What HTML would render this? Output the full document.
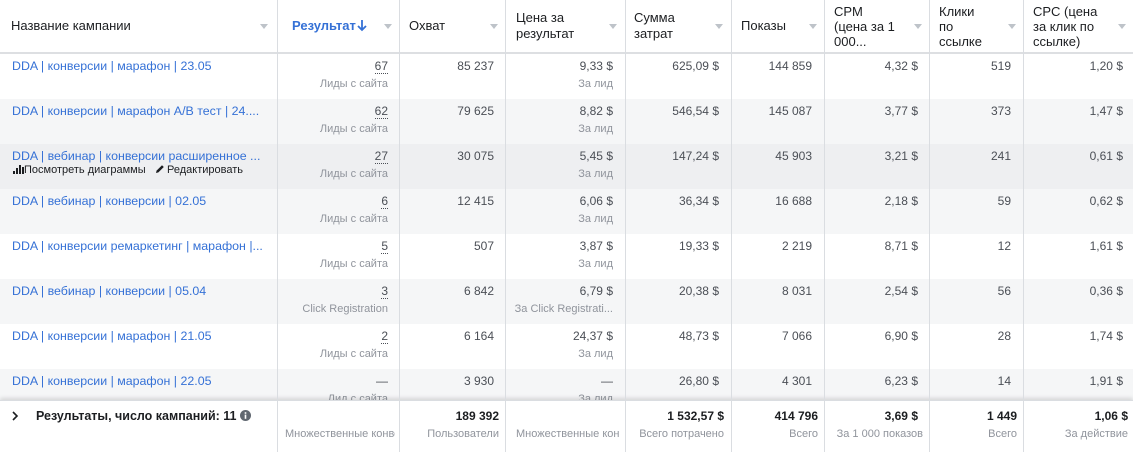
<!DOCTYPE html>
<html><head><meta charset="utf-8">
<style>
*{box-sizing:border-box;margin:0;padding:0}
html,body{width:1133px;height:452px;overflow:hidden;background:#fff;font-family:"Liberation Sans","DejaVu Sans",sans-serif;}
.hdr{position:absolute;left:0;top:0;width:1133px;height:54px;background:#fff;border-bottom:2px solid #dddfe2;}
.ht{position:absolute;font-size:13px;color:#1c1e21;line-height:15px;white-space:nowrap}
.tri{position:absolute;top:24px;width:0;height:0;border-left:4px solid transparent;border-right:4px solid transparent;border-top:5px solid #bec3c9}
.row{position:absolute;left:0;width:1133px;height:45px}
.nm{position:absolute;left:12px;top:5px;font-size:12.4px;line-height:14px;color:#3571d6;white-space:nowrap}
.v{position:absolute;top:5px;font-size:12px;line-height:14px;color:#4b4f56;text-align:right;white-space:nowrap}
.s{position:absolute;top:24px;font-size:11px;line-height:13px;color:#90949c;text-align:right;white-space:nowrap;overflow:hidden}
.dot{border-bottom:1px dotted #4b4f56;padding-bottom:0}
.vl{position:absolute;top:0;width:1px;height:452px;background:#dadde1;z-index:5}
.ft{position:absolute;left:0;top:400px;width:1133px;height:52px;background:#fff;z-index:4;box-shadow:0 -2px 4px rgba(0,0,0,0.13);border-top:1px solid #dadde1}
.fb{position:absolute;top:8px;font-size:12px;line-height:14px;font-weight:bold;color:#1c1e21;text-align:right;white-space:nowrap}
.fs{position:absolute;top:27px;font-size:11px;line-height:13px;color:#90949c;text-align:right;white-space:nowrap;overflow:hidden}
.act{position:absolute;top:20px;font-size:11px;line-height:13px;color:#1c1e21;white-space:nowrap}
</style></head><body>

<div class="hdr">
  <div class="ht" style="left:11px;top:18px">Название кампании</div>
  <div class="tri" style="left:260px"></div>
  <div class="ht" style="left:292px;top:18px;color:#3571d6;font-weight:bold">Результат<svg width="10" height="13" viewBox="0 0 10 13" style="vertical-align:-2px;margin-left:1px"><path d="M5 1 V11 M1 7 L5 11 L9 7" stroke="#3571d6" stroke-width="1.8" fill="none"/></svg></div>
  <div class="tri" style="left:384px"></div>
  <div class="ht" style="left:409px;top:18px">Охват</div>
  <div class="tri" style="left:490px"></div>
  <div class="ht" style="left:516px;top:10px;line-height:16px">Цена за<br>результат</div>
  <div class="tri" style="left:609px"></div>
  <div class="ht" style="left:634px;top:10px;line-height:16px">Сумма<br>затрат</div>
  <div class="tri" style="left:715px"></div>
  <div class="ht" style="left:741px;top:18px">Показы</div>
  <div class="tri" style="left:809px"></div>
  <div class="ht" style="left:834px;top:4px">CPM<br>(цена за 1<br>000...</div>
  <div class="tri" style="left:914px"></div>
  <div class="ht" style="left:939px;top:4px">Клики<br>по<br>ссылке</div>
  <div class="tri" style="left:1008px"></div>
  <div class="ht" style="left:1033px;top:4px">CPC (цена<br>за клик по<br>ссылке)</div>
  <div class="tri" style="left:1118px"></div>
</div>

<!-- Row 1 -->
<div class="row" style="top:54px;background:#fff">
  <div class="nm">DDA | конверсии | марафон | 23.05</div>
  <div class="v" style="left:277px;width:111px"><span class="dot">67</span></div>
  <div class="s" style="left:277px;width:111px">Лиды с сайта</div>
  <div class="v" style="left:399px;width:95px">85 237</div>
  <div class="v" style="left:505px;width:108px">9,33 $</div>
  <div class="s" style="left:505px;width:108px">За лид</div>
  <div class="v" style="left:625px;width:94px">625,09 $</div>
  <div class="v" style="left:731px;width:81px">144 859</div>
  <div class="v" style="left:824px;width:94px">4,32 $</div>
  <div class="v" style="left:929px;width:82px">519</div>
  <div class="v" style="left:1023px;width:100px">1,20 $</div>
</div>

<!-- Row 2 -->
<div class="row" style="top:99px;background:#f5f6f7">
  <div class="nm">DDA | конверсии | марафон A/B тест | 24....</div>
  <div class="v" style="left:277px;width:111px"><span class="dot">62</span></div>
  <div class="s" style="left:277px;width:111px">Лиды с сайта</div>
  <div class="v" style="left:399px;width:95px">79 625</div>
  <div class="v" style="left:505px;width:108px">8,82 $</div>
  <div class="s" style="left:505px;width:108px">За лид</div>
  <div class="v" style="left:625px;width:94px">546,54 $</div>
  <div class="v" style="left:731px;width:81px">145 087</div>
  <div class="v" style="left:824px;width:94px">3,77 $</div>
  <div class="v" style="left:929px;width:82px">373</div>
  <div class="v" style="left:1023px;width:100px">1,47 $</div>
</div>

<!-- Row 3 (hover) -->
<div class="row" style="top:144px;background:#eeeff1">
  <div class="nm">DDA | вебинар | конверсии расширенное ...</div>
  <div class="act" style="left:13px"><svg width="11" height="10" viewBox="0 0 11 10" style="vertical-align:-1px"><rect x="0" y="7" width="2" height="3" fill="#1c1e21"/><rect x="3" y="4" width="2" height="6" fill="#1c1e21"/><rect x="6" y="1" width="2" height="9" fill="#1c1e21"/><rect x="9" y="3" width="2" height="7" fill="#1c1e21"/></svg>Посмотреть диаграммы</div>
  <div class="act" style="left:155px"><svg width="10" height="10" viewBox="0 0 10 10" style="vertical-align:-1px;margin-right:2px"><path d="M1 9 L1.6 6.6 L7 1.2 L8.8 3 L3.4 8.4 Z" fill="#1c1e21"/></svg>Редактировать</div>
  <div class="v" style="left:277px;width:111px"><span class="dot">27</span></div>
  <div class="s" style="left:277px;width:111px">Лиды с сайта</div>
  <div class="v" style="left:399px;width:95px">30 075</div>
  <div class="v" style="left:505px;width:108px">5,45 $</div>
  <div class="s" style="left:505px;width:108px">За лид</div>
  <div class="v" style="left:625px;width:94px">147,24 $</div>
  <div class="v" style="left:731px;width:81px">45 903</div>
  <div class="v" style="left:824px;width:94px">3,21 $</div>
  <div class="v" style="left:929px;width:82px">241</div>
  <div class="v" style="left:1023px;width:100px">0,61 $</div>
</div>

<!-- Row 4 -->
<div class="row" style="top:189px;background:#f5f6f7">
  <div class="nm">DDA | вебинар | конверсии | 02.05</div>
  <div class="v" style="left:277px;width:111px"><span class="dot">6</span></div>
  <div class="s" style="left:277px;width:111px">Лиды с сайта</div>
  <div class="v" style="left:399px;width:95px">12 415</div>
  <div class="v" style="left:505px;width:108px">6,06 $</div>
  <div class="s" style="left:505px;width:108px">За лид</div>
  <div class="v" style="left:625px;width:94px">36,34 $</div>
  <div class="v" style="left:731px;width:81px">16 688</div>
  <div class="v" style="left:824px;width:94px">2,18 $</div>
  <div class="v" style="left:929px;width:82px">59</div>
  <div class="v" style="left:1023px;width:100px">0,62 $</div>
</div>

<!-- Row 5 -->
<div class="row" style="top:234px;background:#fff">
  <div class="nm">DDA | конверсии ремаркетинг | марафон |...</div>
  <div class="v" style="left:277px;width:111px"><span class="dot">5</span></div>
  <div class="s" style="left:277px;width:111px">Лиды с сайта</div>
  <div class="v" style="left:399px;width:95px">507</div>
  <div class="v" style="left:505px;width:108px">3,87 $</div>
  <div class="s" style="left:505px;width:108px">За лид</div>
  <div class="v" style="left:625px;width:94px">19,33 $</div>
  <div class="v" style="left:731px;width:81px">2 219</div>
  <div class="v" style="left:824px;width:94px">8,71 $</div>
  <div class="v" style="left:929px;width:82px">12</div>
  <div class="v" style="left:1023px;width:100px">1,61 $</div>
</div>

<!-- Row 6 -->
<div class="row" style="top:279px;background:#f5f6f7">
  <div class="nm">DDA | вебинар | конверсии | 05.04</div>
  <div class="v" style="left:277px;width:111px"><span class="dot">3</span></div>
  <div class="s" style="left:277px;width:111px">Click Registration</div>
  <div class="v" style="left:399px;width:95px">6 842</div>
  <div class="v" style="left:505px;width:108px">6,79 $</div>
  <div class="s" style="left:505px;width:108px">За Click Registrati...</div>
  <div class="v" style="left:625px;width:94px">20,38 $</div>
  <div class="v" style="left:731px;width:81px">8 031</div>
  <div class="v" style="left:824px;width:94px">2,54 $</div>
  <div class="v" style="left:929px;width:82px">56</div>
  <div class="v" style="left:1023px;width:100px">0,36 $</div>
</div>

<!-- Row 7 -->
<div class="row" style="top:324px;background:#fff">
  <div class="nm">DDA | конверсии | марафон | 21.05</div>
  <div class="v" style="left:277px;width:111px"><span class="dot">2</span></div>
  <div class="s" style="left:277px;width:111px">Лиды с сайта</div>
  <div class="v" style="left:399px;width:95px">6 164</div>
  <div class="v" style="left:505px;width:108px">24,37 $</div>
  <div class="s" style="left:505px;width:108px">За лид</div>
  <div class="v" style="left:625px;width:94px">48,73 $</div>
  <div class="v" style="left:731px;width:81px">7 066</div>
  <div class="v" style="left:824px;width:94px">6,90 $</div>
  <div class="v" style="left:929px;width:82px">28</div>
  <div class="v" style="left:1023px;width:100px">1,74 $</div>
</div>

<!-- Row 8 -->
<div class="row" style="top:369px;background:#f5f6f7">
  <div class="nm">DDA | конверсии | марафон | 22.05</div>
  <div class="v" style="left:277px;width:111px">—</div>
  <div class="s" style="left:277px;width:111px">Лид с сайта</div>
  <div class="v" style="left:399px;width:95px">3 930</div>
  <div class="v" style="left:505px;width:108px">—</div>
  <div class="s" style="left:505px;width:108px">За лид</div>
  <div class="v" style="left:625px;width:94px">26,80 $</div>
  <div class="v" style="left:731px;width:81px">4 301</div>
  <div class="v" style="left:824px;width:94px">6,23 $</div>
  <div class="v" style="left:929px;width:82px">14</div>
  <div class="v" style="left:1023px;width:100px">1,91 $</div>
</div>

<!-- Footer -->
<div class="ft">
  <svg width="8" height="10" viewBox="0 0 8 10" style="position:absolute;left:11px;top:10px"><path d="M2 1 L6 5 L2 9" stroke="#1c1e21" stroke-width="1.6" fill="none"/></svg>
  <div class="fb" style="left:36px;text-align:left;font-size:12.5px">Результаты, число кампаний: 11</div>
  <svg width="11" height="11" viewBox="0 0 11 11" style="position:absolute;left:240px;top:9px"><circle cx="5.5" cy="5.5" r="5.5" fill="#606770"/><rect x="4.7" y="4.6" width="1.6" height="4.2" fill="#fff"/><rect x="4.7" y="2.2" width="1.6" height="1.6" fill="#fff"/></svg>
  <div class="fs" style="left:285px;width:110px;text-align:left">Множественные конверсии</div>
  <div class="fb" style="left:399px;width:100px">189 392</div>
  <div class="fs" style="left:399px;width:100px">Пользователи</div>
  <div class="fs" style="left:516px;width:104px;text-align:left">Множественные конверсии</div>
  <div class="fb" style="left:625px;width:99px">1 532,57 $</div>
  <div class="fs" style="left:625px;width:99px">Всего потрачено</div>
  <div class="fb" style="left:731px;width:87px">414 796</div>
  <div class="fs" style="left:731px;width:87px">Всего</div>
  <div class="fb" style="left:824px;width:94px">3,69 $</div>
  <div class="fs" style="left:824px;width:99px">За 1 000 показов</div>
  <div class="fb" style="left:929px;width:88px">1 449</div>
  <div class="fs" style="left:929px;width:88px">Всего</div>
  <div class="fb" style="left:1023px;width:105px">1,06 $</div>
  <div class="fs" style="left:1023px;width:105px">За действие</div>
</div>

<!-- Vertical lines -->
<div class="vl" style="left:277px"></div>
<div class="vl" style="left:399px"></div>
<div class="vl" style="left:505px"></div>
<div class="vl" style="left:625px"></div>
<div class="vl" style="left:731px"></div>
<div class="vl" style="left:824px"></div>
<div class="vl" style="left:929px"></div>
<div class="vl" style="left:1023px"></div>

</body></html>
